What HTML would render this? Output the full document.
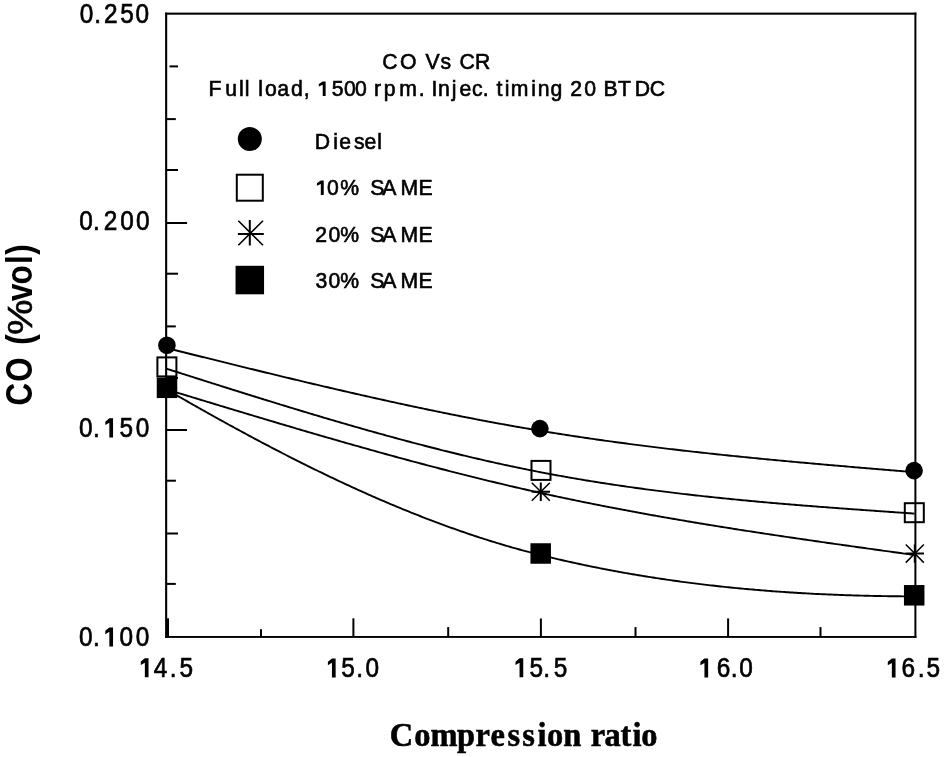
<!DOCTYPE html>
<html><head><meta charset="utf-8"><style>
html,body{margin:0;padding:0;background:#fff;}
svg{display:block;will-change:transform;}
</style></head><body>
<svg width="944" height="757" viewBox="0 0 944 757">
<rect width="944" height="757" fill="#fff"/>
<rect x="165.1" y="12.6" width="2.1" height="625.3" fill="#000"/>
<rect x="165.1" y="12.6" width="751.3" height="2.1" fill="#000"/>
<rect x="914.4" y="12.6" width="2.0" height="625.3" fill="#000"/>
<rect x="165.1" y="636.0" width="751.3" height="1.9" fill="#000"/>
<rect x="169.5" y="65.40" width="8.50" height="2" fill="#000"/>
<rect x="167" y="118.10" width="8.80" height="2" fill="#000"/>
<rect x="167" y="169.00" width="11.00" height="2" fill="#000"/>
<rect x="167" y="272.70" width="11.00" height="2" fill="#000"/>
<rect x="167" y="325.40" width="8.80" height="2" fill="#000"/>
<rect x="167" y="377.00" width="11.00" height="2" fill="#000"/>
<rect x="167" y="479.70" width="8.90" height="2" fill="#000"/>
<rect x="167" y="532.50" width="11.00" height="2" fill="#000"/>
<rect x="167" y="582.90" width="8.80" height="2" fill="#000"/>
<rect x="167" y="222.00" width="20.10" height="2" fill="#000"/>
<rect x="167" y="429.00" width="20.00" height="2" fill="#000"/>
<rect x="260.00" y="629.2" width="2" height="7.80" fill="#000"/>
<rect x="447.20" y="627.1" width="2" height="9.90" fill="#000"/>
<rect x="634.50" y="627.1" width="2" height="9.90" fill="#000"/>
<rect x="819.50" y="627.1" width="2" height="9.90" fill="#000"/>
<rect x="167.00" y="618.3" width="2" height="18.70" fill="#000"/>
<rect x="352.40" y="618.3" width="2" height="18.70" fill="#000"/>
<rect x="539.90" y="618.5" width="2" height="18.50" fill="#000"/>
<rect x="727.10" y="618.4" width="2" height="18.60" fill="#000"/>
<path d="M166.50,348.00 L168.50,348.50 L170.50,349.00 L172.50,349.49 L174.50,349.99 L176.50,350.49 L178.50,350.99 L180.50,351.49 L182.50,351.98 L184.50,352.48 L186.50,352.98 L188.50,353.48 L190.50,353.97 L192.50,354.47 L194.50,354.97 L196.50,355.47 L198.50,355.96 L200.50,356.46 L202.50,356.96 L204.50,357.45 L206.50,357.95 L208.50,358.45 L210.50,358.94 L212.50,359.44 L214.50,359.93 L216.50,360.43 L218.50,360.92 L220.50,361.42 L222.50,361.91 L224.50,362.41 L226.50,362.90 L228.50,363.39 L230.50,363.89 L232.50,364.38 L234.50,364.87 L236.50,365.37 L238.50,365.86 L240.50,366.35 L242.50,366.84 L244.50,367.33 L246.50,367.82 L248.50,368.31 L250.50,368.80 L252.50,369.29 L254.50,369.78 L256.50,370.27 L258.50,370.76 L260.50,371.25 L262.50,371.74 L264.50,372.22 L266.50,372.71 L268.50,373.19 L270.50,373.68 L272.50,374.17 L274.50,374.65 L276.50,375.13 L278.50,375.62 L280.50,376.10 L282.50,376.58 L284.50,377.06 L286.50,377.55 L288.50,378.03 L290.50,378.51 L292.50,378.99 L294.50,379.47 L296.50,379.94 L298.50,380.42 L300.50,380.90 L302.50,381.38 L304.50,381.85 L306.50,382.33 L308.50,382.80 L310.50,383.27 L312.50,383.75 L314.50,384.22 L316.50,384.69 L318.50,385.16 L320.50,385.63 L322.50,386.10 L324.50,386.57 L326.50,387.04 L328.50,387.51 L330.50,387.97 L332.50,388.44 L334.50,388.90 L336.50,389.37 L338.50,389.83 L340.50,390.29 L342.50,390.76 L344.50,391.22 L346.50,391.68 L348.50,392.14 L350.50,392.60 L352.50,393.05 L354.50,393.51 L356.50,393.97 L358.50,394.42 L360.50,394.87 L362.50,395.33 L364.50,395.78 L366.50,396.23 L368.50,396.68 L370.50,397.13 L372.50,397.58 L374.50,398.02 L376.50,398.47 L378.50,398.92 L380.50,399.36 L382.50,399.80 L384.50,400.25 L386.50,400.69 L388.50,401.13 L390.50,401.57 L392.50,402.00 L394.50,402.44 L396.50,402.88 L398.50,403.31 L400.50,403.75 L402.50,404.18 L404.50,404.61 L406.50,405.04 L408.50,405.47 L410.50,405.90 L412.50,406.32 L414.50,406.75 L416.50,407.17 L418.50,407.60 L420.50,408.02 L422.50,408.44 L424.50,408.86 L426.50,409.28 L428.50,409.70 L430.50,410.11 L432.50,410.53 L434.50,410.94 L436.50,411.35 L438.50,411.76 L440.50,412.17 L442.50,412.58 L444.50,412.99 L446.50,413.39 L448.50,413.80 L450.50,414.20 L452.50,414.60 L454.50,415.00 L456.50,415.40 L458.50,415.80 L460.50,416.20 L462.50,416.59 L464.50,416.99 L466.50,417.38 L468.50,417.77 L470.50,418.16 L472.50,418.54 L474.50,418.93 L476.50,419.32 L478.50,419.70 L480.50,420.08 L482.50,420.46 L484.50,420.84 L486.50,421.22 L488.50,421.59 L490.50,421.97 L492.50,422.34 L494.50,422.71 L496.50,423.08 L498.50,423.45 L500.50,423.82 L502.50,424.18 L504.50,424.54 L506.50,424.91 L508.50,425.27 L510.50,425.62 L512.50,425.98 L514.50,426.34 L516.50,426.69 L518.50,427.04 L520.50,427.39 L522.50,427.74 L524.50,428.09 L526.50,428.43 L528.50,428.78 L530.50,429.12 L532.50,429.46 L534.50,429.80 L536.50,430.13 L538.50,430.47 L540.50,430.80 L542.50,431.13 L544.50,431.46 L546.50,431.79 L548.50,432.11 L550.50,432.44 L552.50,432.76 L554.50,433.08 L556.50,433.40 L558.50,433.72 L560.50,434.03 L562.50,434.35 L564.50,434.66 L566.50,434.97 L568.50,435.28 L570.50,435.59 L572.50,435.89 L574.50,436.20 L576.50,436.50 L578.50,436.80 L580.50,437.10 L582.50,437.40 L584.50,437.69 L586.50,437.99 L588.50,438.28 L590.50,438.57 L592.50,438.86 L594.50,439.15 L596.50,439.44 L598.50,439.72 L600.50,440.01 L602.50,440.29 L604.50,440.57 L606.50,440.85 L608.50,441.13 L610.50,441.40 L612.50,441.68 L614.50,441.95 L616.50,442.22 L618.50,442.49 L620.50,442.76 L622.50,443.03 L624.50,443.30 L626.50,443.56 L628.50,443.83 L630.50,444.09 L632.50,444.35 L634.50,444.61 L636.50,444.87 L638.50,445.13 L640.50,445.38 L642.50,445.64 L644.50,445.89 L646.50,446.14 L648.50,446.39 L650.50,446.64 L652.50,446.89 L654.50,447.14 L656.50,447.38 L658.50,447.63 L660.50,447.87 L662.50,448.11 L664.50,448.35 L666.50,448.59 L668.50,448.83 L670.50,449.07 L672.50,449.30 L674.50,449.54 L676.50,449.77 L678.50,450.01 L680.50,450.24 L682.50,450.47 L684.50,450.70 L686.50,450.93 L688.50,451.15 L690.50,451.38 L692.50,451.60 L694.50,451.83 L696.50,452.05 L698.50,452.27 L700.50,452.49 L702.50,452.71 L704.50,452.93 L706.50,453.15 L708.50,453.37 L710.50,453.58 L712.50,453.80 L714.50,454.01 L716.50,454.23 L718.50,454.44 L720.50,454.65 L722.50,454.86 L724.50,455.07 L726.50,455.28 L728.50,455.48 L730.50,455.69 L732.50,455.90 L734.50,456.10 L736.50,456.31 L738.50,456.51 L740.50,456.71 L742.50,456.91 L744.50,457.11 L746.50,457.31 L748.50,457.51 L750.50,457.71 L752.50,457.91 L754.50,458.11 L756.50,458.30 L758.50,458.50 L760.50,458.69 L762.50,458.89 L764.50,459.08 L766.50,459.27 L768.50,459.46 L770.50,459.65 L772.50,459.84 L774.50,460.03 L776.50,460.22 L778.50,460.41 L780.50,460.60 L782.50,460.79 L784.50,460.97 L786.50,461.16 L788.50,461.34 L790.50,461.53 L792.50,461.71 L794.50,461.90 L796.50,462.08 L798.50,462.26 L800.50,462.44 L802.50,462.62 L804.50,462.80 L806.50,462.98 L808.50,463.16 L810.50,463.34 L812.50,463.52 L814.50,463.70 L816.50,463.88 L818.50,464.05 L820.50,464.23 L822.50,464.41 L824.50,464.58 L826.50,464.76 L828.50,464.93 L830.50,465.11 L832.50,465.28 L834.50,465.46 L836.50,465.63 L838.50,465.80 L840.50,465.98 L842.50,466.15 L844.50,466.32 L846.50,466.49 L848.50,466.66 L850.50,466.83 L852.50,467.01 L854.50,467.18 L856.50,467.35 L858.50,467.52 L860.50,467.69 L862.50,467.86 L864.50,468.02 L866.50,468.19 L868.50,468.36 L870.50,468.53 L872.50,468.70 L874.50,468.87 L876.50,469.03 L878.50,469.20 L880.50,469.37 L882.50,469.54 L884.50,469.70 L886.50,469.87 L888.50,470.04 L890.50,470.20 L892.50,470.37 L894.50,470.54 L896.50,470.70 L898.50,470.87 L900.50,471.04 L902.50,471.20 L904.50,471.37 L906.50,471.54 L908.50,471.70 L910.50,471.87 L912.50,472.03 L914.50,472.20" fill="none" stroke="#000" stroke-width="1.9"/>
<path d="M166.50,368.70 L168.50,369.34 L170.50,369.97 L172.50,370.61 L174.50,371.25 L176.50,371.88 L178.50,372.52 L180.50,373.15 L182.50,373.79 L184.50,374.43 L186.50,375.06 L188.50,375.70 L190.50,376.33 L192.50,376.97 L194.50,377.60 L196.50,378.24 L198.50,378.87 L200.50,379.51 L202.50,380.14 L204.50,380.78 L206.50,381.41 L208.50,382.04 L210.50,382.68 L212.50,383.31 L214.50,383.94 L216.50,384.58 L218.50,385.21 L220.50,385.84 L222.50,386.47 L224.50,387.10 L226.50,387.73 L228.50,388.36 L230.50,388.99 L232.50,389.62 L234.50,390.25 L236.50,390.88 L238.50,391.50 L240.50,392.13 L242.50,392.76 L244.50,393.38 L246.50,394.01 L248.50,394.63 L250.50,395.26 L252.50,395.88 L254.50,396.50 L256.50,397.13 L258.50,397.75 L260.50,398.37 L262.50,398.99 L264.50,399.61 L266.50,400.23 L268.50,400.85 L270.50,401.46 L272.50,402.08 L274.50,402.70 L276.50,403.31 L278.50,403.93 L280.50,404.54 L282.50,405.15 L284.50,405.77 L286.50,406.38 L288.50,406.99 L290.50,407.60 L292.50,408.21 L294.50,408.81 L296.50,409.42 L298.50,410.03 L300.50,410.63 L302.50,411.24 L304.50,411.84 L306.50,412.44 L308.50,413.04 L310.50,413.64 L312.50,414.24 L314.50,414.84 L316.50,415.44 L318.50,416.03 L320.50,416.63 L322.50,417.22 L324.50,417.81 L326.50,418.40 L328.50,418.99 L330.50,419.58 L332.50,420.17 L334.50,420.76 L336.50,421.34 L338.50,421.93 L340.50,422.51 L342.50,423.09 L344.50,423.67 L346.50,424.25 L348.50,424.83 L350.50,425.41 L352.50,425.98 L354.50,426.56 L356.50,427.13 L358.50,427.70 L360.50,428.27 L362.50,428.84 L364.50,429.41 L366.50,429.98 L368.50,430.54 L370.50,431.10 L372.50,431.66 L374.50,432.23 L376.50,432.78 L378.50,433.34 L380.50,433.90 L382.50,434.45 L384.50,435.00 L386.50,435.55 L388.50,436.10 L390.50,436.65 L392.50,437.20 L394.50,437.74 L396.50,438.29 L398.50,438.83 L400.50,439.37 L402.50,439.91 L404.50,440.44 L406.50,440.98 L408.50,441.51 L410.50,442.04 L412.50,442.57 L414.50,443.10 L416.50,443.63 L418.50,444.15 L420.50,444.67 L422.50,445.19 L424.50,445.71 L426.50,446.23 L428.50,446.74 L430.50,447.26 L432.50,447.77 L434.50,448.28 L436.50,448.79 L438.50,449.29 L440.50,449.80 L442.50,450.30 L444.50,450.80 L446.50,451.29 L448.50,451.79 L450.50,452.28 L452.50,452.78 L454.50,453.27 L456.50,453.75 L458.50,454.24 L460.50,454.72 L462.50,455.21 L464.50,455.68 L466.50,456.16 L468.50,456.64 L470.50,457.11 L472.50,457.58 L474.50,458.05 L476.50,458.52 L478.50,458.98 L480.50,459.44 L482.50,459.90 L484.50,460.36 L486.50,460.82 L488.50,461.27 L490.50,461.72 L492.50,462.17 L494.50,462.61 L496.50,463.06 L498.50,463.50 L500.50,463.94 L502.50,464.37 L504.50,464.81 L506.50,465.24 L508.50,465.67 L510.50,466.10 L512.50,466.52 L514.50,466.94 L516.50,467.36 L518.50,467.78 L520.50,468.19 L522.50,468.61 L524.50,469.02 L526.50,469.42 L528.50,469.83 L530.50,470.23 L532.50,470.63 L534.50,471.03 L536.50,471.42 L538.50,471.81 L540.50,472.20 L542.50,472.59 L544.50,472.97 L546.50,473.35 L548.50,473.73 L550.50,474.10 L552.50,474.48 L554.50,474.85 L556.50,475.22 L558.50,475.58 L560.50,475.94 L562.50,476.30 L564.50,476.66 L566.50,477.02 L568.50,477.37 L570.50,477.72 L572.50,478.07 L574.50,478.41 L576.50,478.76 L578.50,479.10 L580.50,479.43 L582.50,479.77 L584.50,480.10 L586.50,480.44 L588.50,480.76 L590.50,481.09 L592.50,481.41 L594.50,481.74 L596.50,482.06 L598.50,482.37 L600.50,482.69 L602.50,483.00 L604.50,483.31 L606.50,483.62 L608.50,483.93 L610.50,484.23 L612.50,484.53 L614.50,484.83 L616.50,485.13 L618.50,485.42 L620.50,485.72 L622.50,486.01 L624.50,486.30 L626.50,486.59 L628.50,486.87 L630.50,487.15 L632.50,487.43 L634.50,487.71 L636.50,487.99 L638.50,488.27 L640.50,488.54 L642.50,488.81 L644.50,489.08 L646.50,489.35 L648.50,489.61 L650.50,489.87 L652.50,490.14 L654.50,490.40 L656.50,490.65 L658.50,490.91 L660.50,491.16 L662.50,491.42 L664.50,491.67 L666.50,491.92 L668.50,492.16 L670.50,492.41 L672.50,492.65 L674.50,492.89 L676.50,493.13 L678.50,493.37 L680.50,493.61 L682.50,493.84 L684.50,494.08 L686.50,494.31 L688.50,494.54 L690.50,494.77 L692.50,494.99 L694.50,495.22 L696.50,495.44 L698.50,495.67 L700.50,495.89 L702.50,496.11 L704.50,496.32 L706.50,496.54 L708.50,496.75 L710.50,496.97 L712.50,497.18 L714.50,497.39 L716.50,497.60 L718.50,497.81 L720.50,498.01 L722.50,498.22 L724.50,498.42 L726.50,498.62 L728.50,498.82 L730.50,499.02 L732.50,499.22 L734.50,499.42 L736.50,499.61 L738.50,499.81 L740.50,500.00 L742.50,500.19 L744.50,500.38 L746.50,500.57 L748.50,500.76 L750.50,500.94 L752.50,501.13 L754.50,501.31 L756.50,501.50 L758.50,501.68 L760.50,501.86 L762.50,502.04 L764.50,502.22 L766.50,502.40 L768.50,502.58 L770.50,502.75 L772.50,502.93 L774.50,503.10 L776.50,503.27 L778.50,503.44 L780.50,503.62 L782.50,503.79 L784.50,503.95 L786.50,504.12 L788.50,504.29 L790.50,504.46 L792.50,504.62 L794.50,504.79 L796.50,504.95 L798.50,505.11 L800.50,505.27 L802.50,505.43 L804.50,505.59 L806.50,505.75 L808.50,505.91 L810.50,506.07 L812.50,506.23 L814.50,506.38 L816.50,506.54 L818.50,506.70 L820.50,506.85 L822.50,507.00 L824.50,507.16 L826.50,507.31 L828.50,507.46 L830.50,507.61 L832.50,507.76 L834.50,507.91 L836.50,508.06 L838.50,508.21 L840.50,508.36 L842.50,508.51 L844.50,508.66 L846.50,508.80 L848.50,508.95 L850.50,509.09 L852.50,509.24 L854.50,509.38 L856.50,509.53 L858.50,509.67 L860.50,509.82 L862.50,509.96 L864.50,510.10 L866.50,510.25 L868.50,510.39 L870.50,510.53 L872.50,510.67 L874.50,510.81 L876.50,510.95 L878.50,511.10 L880.50,511.24 L882.50,511.38 L884.50,511.52 L886.50,511.66 L888.50,511.80 L890.50,511.94 L892.50,512.07 L894.50,512.21 L896.50,512.35 L898.50,512.49 L900.50,512.63 L902.50,512.77 L904.50,512.91 L906.50,513.05 L908.50,513.18 L910.50,513.32 L912.50,513.46 L914.50,513.60" fill="none" stroke="#000" stroke-width="1.9"/>
<path d="M166.50,389.40 L168.50,390.01 L170.50,390.62 L172.50,391.23 L174.50,391.84 L176.50,392.44 L178.50,393.05 L180.50,393.66 L182.50,394.27 L184.50,394.88 L186.50,395.49 L188.50,396.09 L190.50,396.70 L192.50,397.31 L194.50,397.92 L196.50,398.53 L198.50,399.13 L200.50,399.74 L202.50,400.35 L204.50,400.96 L206.50,401.56 L208.50,402.17 L210.50,402.78 L212.50,403.38 L214.50,403.99 L216.50,404.60 L218.50,405.20 L220.50,405.81 L222.50,406.41 L224.50,407.02 L226.50,407.62 L228.50,408.23 L230.50,408.83 L232.50,409.43 L234.50,410.04 L236.50,410.64 L238.50,411.24 L240.50,411.85 L242.50,412.45 L244.50,413.05 L246.50,413.65 L248.50,414.25 L250.50,414.85 L252.50,415.45 L254.50,416.05 L256.50,416.65 L258.50,417.25 L260.50,417.85 L262.50,418.45 L264.50,419.05 L266.50,419.64 L268.50,420.24 L270.50,420.84 L272.50,421.43 L274.50,422.03 L276.50,422.62 L278.50,423.22 L280.50,423.81 L282.50,424.40 L284.50,425.00 L286.50,425.59 L288.50,426.18 L290.50,426.77 L292.50,427.36 L294.50,427.95 L296.50,428.54 L298.50,429.13 L300.50,429.72 L302.50,430.30 L304.50,430.89 L306.50,431.47 L308.50,432.06 L310.50,432.64 L312.50,433.23 L314.50,433.81 L316.50,434.39 L318.50,434.98 L320.50,435.56 L322.50,436.14 L324.50,436.72 L326.50,437.30 L328.50,437.87 L330.50,438.45 L332.50,439.03 L334.50,439.60 L336.50,440.18 L338.50,440.75 L340.50,441.33 L342.50,441.90 L344.50,442.47 L346.50,443.04 L348.50,443.61 L350.50,444.18 L352.50,444.75 L354.50,445.31 L356.50,445.88 L358.50,446.45 L360.50,447.01 L362.50,447.58 L364.50,448.14 L366.50,448.70 L368.50,449.26 L370.50,449.82 L372.50,450.38 L374.50,450.94 L376.50,451.49 L378.50,452.05 L380.50,452.61 L382.50,453.16 L384.50,453.71 L386.50,454.26 L388.50,454.81 L390.50,455.36 L392.50,455.91 L394.50,456.46 L396.50,457.01 L398.50,457.55 L400.50,458.10 L402.50,458.64 L404.50,459.18 L406.50,459.72 L408.50,460.26 L410.50,460.80 L412.50,461.34 L414.50,461.88 L416.50,462.41 L418.50,462.95 L420.50,463.48 L422.50,464.01 L424.50,464.54 L426.50,465.07 L428.50,465.60 L430.50,466.12 L432.50,466.65 L434.50,467.17 L436.50,467.70 L438.50,468.22 L440.50,468.74 L442.50,469.26 L444.50,469.78 L446.50,470.29 L448.50,470.81 L450.50,471.32 L452.50,471.83 L454.50,472.34 L456.50,472.85 L458.50,473.36 L460.50,473.87 L462.50,474.37 L464.50,474.88 L466.50,475.38 L468.50,475.88 L470.50,476.38 L472.50,476.88 L474.50,477.38 L476.50,477.87 L478.50,478.37 L480.50,478.86 L482.50,479.35 L484.50,479.84 L486.50,480.33 L488.50,480.82 L490.50,481.30 L492.50,481.78 L494.50,482.27 L496.50,482.75 L498.50,483.22 L500.50,483.70 L502.50,484.18 L504.50,484.65 L506.50,485.12 L508.50,485.59 L510.50,486.06 L512.50,486.53 L514.50,487.00 L516.50,487.46 L518.50,487.92 L520.50,488.38 L522.50,488.84 L524.50,489.30 L526.50,489.76 L528.50,490.21 L530.50,490.66 L532.50,491.11 L534.50,491.56 L536.50,492.01 L538.50,492.46 L540.50,492.90 L542.50,493.34 L544.50,493.78 L546.50,494.22 L548.50,494.66 L550.50,495.09 L552.50,495.53 L554.50,495.96 L556.50,496.39 L558.50,496.81 L560.50,497.24 L562.50,497.67 L564.50,498.09 L566.50,498.51 L568.50,498.93 L570.50,499.35 L572.50,499.76 L574.50,500.18 L576.50,500.59 L578.50,501.00 L580.50,501.41 L582.50,501.82 L584.50,502.23 L586.50,502.63 L588.50,503.04 L590.50,503.44 L592.50,503.84 L594.50,504.24 L596.50,504.64 L598.50,505.03 L600.50,505.43 L602.50,505.82 L604.50,506.21 L606.50,506.60 L608.50,506.99 L610.50,507.38 L612.50,507.76 L614.50,508.15 L616.50,508.53 L618.50,508.91 L620.50,509.29 L622.50,509.67 L624.50,510.05 L626.50,510.42 L628.50,510.80 L630.50,511.17 L632.50,511.54 L634.50,511.91 L636.50,512.28 L638.50,512.65 L640.50,513.02 L642.50,513.38 L644.50,513.75 L646.50,514.11 L648.50,514.47 L650.50,514.83 L652.50,515.19 L654.50,515.55 L656.50,515.90 L658.50,516.26 L660.50,516.61 L662.50,516.96 L664.50,517.32 L666.50,517.67 L668.50,518.02 L670.50,518.36 L672.50,518.71 L674.50,519.06 L676.50,519.40 L678.50,519.74 L680.50,520.09 L682.50,520.43 L684.50,520.77 L686.50,521.11 L688.50,521.44 L690.50,521.78 L692.50,522.12 L694.50,522.45 L696.50,522.79 L698.50,523.12 L700.50,523.45 L702.50,523.78 L704.50,524.11 L706.50,524.44 L708.50,524.77 L710.50,525.09 L712.50,525.42 L714.50,525.74 L716.50,526.07 L718.50,526.39 L720.50,526.71 L722.50,527.03 L724.50,527.35 L726.50,527.67 L728.50,527.99 L730.50,528.31 L732.50,528.62 L734.50,528.94 L736.50,529.25 L738.50,529.57 L740.50,529.88 L742.50,530.19 L744.50,530.51 L746.50,530.82 L748.50,531.13 L750.50,531.43 L752.50,531.74 L754.50,532.05 L756.50,532.36 L758.50,532.66 L760.50,532.97 L762.50,533.27 L764.50,533.58 L766.50,533.88 L768.50,534.18 L770.50,534.48 L772.50,534.79 L774.50,535.09 L776.50,535.39 L778.50,535.68 L780.50,535.98 L782.50,536.28 L784.50,536.58 L786.50,536.87 L788.50,537.17 L790.50,537.47 L792.50,537.76 L794.50,538.05 L796.50,538.35 L798.50,538.64 L800.50,538.93 L802.50,539.22 L804.50,539.52 L806.50,539.81 L808.50,540.10 L810.50,540.39 L812.50,540.68 L814.50,540.97 L816.50,541.25 L818.50,541.54 L820.50,541.83 L822.50,542.12 L824.50,542.40 L826.50,542.69 L828.50,542.97 L830.50,543.26 L832.50,543.54 L834.50,543.83 L836.50,544.11 L838.50,544.40 L840.50,544.68 L842.50,544.96 L844.50,545.25 L846.50,545.53 L848.50,545.81 L850.50,546.09 L852.50,546.37 L854.50,546.66 L856.50,546.94 L858.50,547.22 L860.50,547.50 L862.50,547.78 L864.50,548.06 L866.50,548.34 L868.50,548.62 L870.50,548.89 L872.50,549.17 L874.50,549.45 L876.50,549.73 L878.50,550.01 L880.50,550.29 L882.50,550.57 L884.50,550.84 L886.50,551.12 L888.50,551.40 L890.50,551.68 L892.50,551.95 L894.50,552.23 L896.50,552.51 L898.50,552.79 L900.50,553.06 L902.50,553.34 L904.50,553.62 L906.50,553.89 L908.50,554.17 L910.50,554.45 L912.50,554.72 L914.50,555.00" fill="none" stroke="#000" stroke-width="1.9"/>
<path d="M166.50,389.40 L168.50,390.56 L170.50,391.72 L172.50,392.88 L174.50,394.03 L176.50,395.19 L178.50,396.34 L180.50,397.49 L182.50,398.64 L184.50,399.78 L186.50,400.93 L188.50,402.07 L190.50,403.21 L192.50,404.35 L194.50,405.49 L196.50,406.62 L198.50,407.76 L200.50,408.89 L202.50,410.01 L204.50,411.14 L206.50,412.26 L208.50,413.39 L210.50,414.51 L212.50,415.62 L214.50,416.74 L216.50,417.85 L218.50,418.96 L220.50,420.07 L222.50,421.18 L224.50,422.28 L226.50,423.39 L228.50,424.49 L230.50,425.58 L232.50,426.68 L234.50,427.77 L236.50,428.86 L238.50,429.95 L240.50,431.03 L242.50,432.12 L244.50,433.20 L246.50,434.28 L248.50,435.35 L250.50,436.42 L252.50,437.49 L254.50,438.56 L256.50,439.63 L258.50,440.69 L260.50,441.75 L262.50,442.81 L264.50,443.86 L266.50,444.91 L268.50,445.96 L270.50,447.01 L272.50,448.05 L274.50,449.09 L276.50,450.13 L278.50,451.17 L280.50,452.20 L282.50,453.23 L284.50,454.25 L286.50,455.28 L288.50,456.30 L290.50,457.32 L292.50,458.33 L294.50,459.34 L296.50,460.35 L298.50,461.36 L300.50,462.36 L302.50,463.36 L304.50,464.36 L306.50,465.35 L308.50,466.34 L310.50,467.33 L312.50,468.31 L314.50,469.29 L316.50,470.27 L318.50,471.25 L320.50,472.22 L322.50,473.19 L324.50,474.15 L326.50,475.11 L328.50,476.07 L330.50,477.03 L332.50,477.98 L334.50,478.93 L336.50,479.87 L338.50,480.82 L340.50,481.75 L342.50,482.69 L344.50,483.62 L346.50,484.55 L348.50,485.47 L350.50,486.39 L352.50,487.31 L354.50,488.22 L356.50,489.13 L358.50,490.04 L360.50,490.94 L362.50,491.84 L364.50,492.74 L366.50,493.63 L368.50,494.52 L370.50,495.40 L372.50,496.29 L374.50,497.16 L376.50,498.04 L378.50,498.91 L380.50,499.77 L382.50,500.63 L384.50,501.49 L386.50,502.35 L388.50,503.20 L390.50,504.04 L392.50,504.89 L394.50,505.73 L396.50,506.56 L398.50,507.39 L400.50,508.22 L402.50,509.04 L404.50,509.86 L406.50,510.67 L408.50,511.48 L410.50,512.29 L412.50,513.09 L414.50,513.89 L416.50,514.69 L418.50,515.48 L420.50,516.26 L422.50,517.04 L424.50,517.82 L426.50,518.59 L428.50,519.36 L430.50,520.13 L432.50,520.89 L434.50,521.64 L436.50,522.39 L438.50,523.14 L440.50,523.88 L442.50,524.62 L444.50,525.36 L446.50,526.09 L448.50,526.81 L450.50,527.53 L452.50,528.25 L454.50,528.96 L456.50,529.67 L458.50,530.37 L460.50,531.07 L462.50,531.76 L464.50,532.45 L466.50,533.13 L468.50,533.81 L470.50,534.49 L472.50,535.16 L474.50,535.82 L476.50,536.48 L478.50,537.14 L480.50,537.79 L482.50,538.43 L484.50,539.08 L486.50,539.71 L488.50,540.34 L490.50,540.97 L492.50,541.59 L494.50,542.21 L496.50,542.82 L498.50,543.43 L500.50,544.03 L502.50,544.63 L504.50,545.22 L506.50,545.81 L508.50,546.39 L510.50,546.97 L512.50,547.54 L514.50,548.10 L516.50,548.67 L518.50,549.22 L520.50,549.77 L522.50,550.32 L524.50,550.86 L526.50,551.40 L528.50,551.93 L530.50,552.45 L532.50,552.97 L534.50,553.49 L536.50,554.00 L538.50,554.50 L540.50,555.00 L542.50,555.49 L544.50,555.98 L546.50,556.47 L548.50,556.96 L550.50,557.44 L552.50,557.91 L554.50,558.39 L556.50,558.85 L558.50,559.32 L560.50,559.78 L562.50,560.24 L564.50,560.70 L566.50,561.15 L568.50,561.60 L570.50,562.05 L572.50,562.49 L574.50,562.93 L576.50,563.36 L578.50,563.79 L580.50,564.22 L582.50,564.65 L584.50,565.07 L586.50,565.49 L588.50,565.90 L590.50,566.31 L592.50,566.72 L594.50,567.13 L596.50,567.53 L598.50,567.93 L600.50,568.32 L602.50,568.72 L604.50,569.10 L606.50,569.49 L608.50,569.87 L610.50,570.25 L612.50,570.63 L614.50,571.00 L616.50,571.37 L618.50,571.74 L620.50,572.10 L622.50,572.46 L624.50,572.82 L626.50,573.17 L628.50,573.52 L630.50,573.87 L632.50,574.21 L634.50,574.55 L636.50,574.89 L638.50,575.23 L640.50,575.56 L642.50,575.89 L644.50,576.21 L646.50,576.54 L648.50,576.86 L650.50,577.17 L652.50,577.49 L654.50,577.80 L656.50,578.11 L658.50,578.41 L660.50,578.71 L662.50,579.01 L664.50,579.31 L666.50,579.60 L668.50,579.89 L670.50,580.18 L672.50,580.46 L674.50,580.74 L676.50,581.02 L678.50,581.30 L680.50,581.57 L682.50,581.84 L684.50,582.11 L686.50,582.37 L688.50,582.63 L690.50,582.89 L692.50,583.15 L694.50,583.40 L696.50,583.65 L698.50,583.90 L700.50,584.14 L702.50,584.38 L704.50,584.62 L706.50,584.86 L708.50,585.09 L710.50,585.32 L712.50,585.55 L714.50,585.78 L716.50,586.00 L718.50,586.22 L720.50,586.44 L722.50,586.65 L724.50,586.86 L726.50,587.07 L728.50,587.28 L730.50,587.48 L732.50,587.69 L734.50,587.89 L736.50,588.08 L738.50,588.28 L740.50,588.47 L742.50,588.66 L744.50,588.84 L746.50,589.03 L748.50,589.21 L750.50,589.38 L752.50,589.56 L754.50,589.73 L756.50,589.91 L758.50,590.07 L760.50,590.24 L762.50,590.40 L764.50,590.56 L766.50,590.72 L768.50,590.88 L770.50,591.03 L772.50,591.19 L774.50,591.33 L776.50,591.48 L778.50,591.63 L780.50,591.77 L782.50,591.91 L784.50,592.04 L786.50,592.18 L788.50,592.31 L790.50,592.44 L792.50,592.57 L794.50,592.70 L796.50,592.82 L798.50,592.94 L800.50,593.06 L802.50,593.18 L804.50,593.29 L806.50,593.40 L808.50,593.51 L810.50,593.62 L812.50,593.72 L814.50,593.83 L816.50,593.93 L818.50,594.03 L820.50,594.12 L822.50,594.22 L824.50,594.31 L826.50,594.40 L828.50,594.49 L830.50,594.57 L832.50,594.66 L834.50,594.74 L836.50,594.82 L838.50,594.90 L840.50,594.97 L842.50,595.05 L844.50,595.12 L846.50,595.19 L848.50,595.25 L850.50,595.32 L852.50,595.38 L854.50,595.44 L856.50,595.50 L858.50,595.56 L860.50,595.62 L862.50,595.67 L864.50,595.72 L866.50,595.77 L868.50,595.82 L870.50,595.86 L872.50,595.91 L874.50,595.95 L876.50,595.99 L878.50,596.03 L880.50,596.06 L882.50,596.10 L884.50,596.13 L886.50,596.16 L888.50,596.19 L890.50,596.22 L892.50,596.24 L894.50,596.26 L896.50,596.29 L898.50,596.31 L900.50,596.32 L902.50,596.34 L904.50,596.35 L906.50,596.37 L908.50,596.38 L910.50,596.39 L912.50,596.39 L914.50,596.40" fill="none" stroke="#000" stroke-width="1.9"/>
<path d="M531.60,491.70 H550.00 M540.80,482.50 V500.90" stroke="#000" stroke-width="2" fill="none"/><path d="M531.78,482.68 L549.82,500.72 M531.78,500.72 L549.82,482.68" stroke="#000" stroke-width="1.5" fill="none"/>
<path d="M905.60,553.60 H924.00 M914.80,544.40 V562.80" stroke="#000" stroke-width="2" fill="none"/><path d="M905.78,544.58 L923.82,562.62 M905.78,562.62 L923.82,544.58" stroke="#000" stroke-width="1.5" fill="none"/>
<rect x="157.40" y="357.40" width="19.00" height="19.00" fill="none" stroke="#000" stroke-width="2"/>
<rect x="531.50" y="460.90" width="19.00" height="19.00" fill="none" stroke="#000" stroke-width="2"/>
<rect x="904.80" y="503.20" width="19.00" height="19.00" fill="none" stroke="#000" stroke-width="2"/>
<rect x="156.75" y="377.55" width="20.5" height="20.5" fill="#000"/>
<rect x="530.45" y="543.25" width="20.5" height="20.5" fill="#000"/>
<rect x="903.95" y="585.05" width="20.5" height="20.5" fill="#000"/>
<circle cx="166.90" cy="345.20" r="8.8" fill="#000"/>
<circle cx="539.90" cy="428.60" r="8.8" fill="#000"/>
<circle cx="914.10" cy="470.60" r="8.8" fill="#000"/>
<circle cx="249.80" cy="139.00" r="12.0" fill="#000"/>
<rect x="236.80" y="174.70" width="26.00" height="26.00" fill="none" stroke="#000" stroke-width="2"/>
<path d="M237.9,234.1 H263.8 M249.8,220.1 V245.5" stroke="#000" stroke-width="2" fill="none"/>
<path d="M238.3,220.8 L263.0,245.2 M238.3,245.2 L263.0,220.8" stroke="#000" stroke-width="1.6" fill="none"/>
<rect x="235.55" y="265.80" width="28.5" height="28.5" fill="#000"/>
<text transform="translate(79.75,23.19) scale(0.88,1)" x="-0.00 16.62 27.53 46.00 63.41" y="0" font-family="&quot;Liberation Sans&quot;, sans-serif" font-size="27.7" font-weight="normal" stroke="#000" stroke-width="0.7">0.250</text>
<text transform="translate(79.15,230.29) scale(0.88,1)" x="-0.00 15.83 28.10 46.70 64.55" y="0" font-family="&quot;Liberation Sans&quot;, sans-serif" font-size="27.7" font-weight="normal" stroke="#000" stroke-width="0.7">0.200</text>
<text transform="translate(79.05,437.39) scale(0.88,1)" x="-0.00 15.94 27.56 46.00 64.43" y="0" font-family="&quot;Liberation Sans&quot;, sans-serif" font-size="27.7" font-weight="normal" stroke="#000" stroke-width="0.7">0.<tspan visibility="hidden">1</tspan>50</text><g transform="translate(79.05,437.39) scale(0.88,1)"><path transform="translate(27.56,0) scale(0.01353,-0.01353)" d="M508,0 L818,0 L818,1409 L508,1409 L168,1159 L168,909 L508,1079 Z"/></g>
<text transform="translate(79.05,646.44) scale(0.88,1)" x="-0.00 15.94 27.56 46.02 64.43" y="0" font-family="&quot;Liberation Sans&quot;, sans-serif" font-size="27.7" font-weight="normal" stroke="#000" stroke-width="0.7">0.<tspan visibility="hidden">1</tspan>00</text><g transform="translate(79.05,646.44) scale(0.88,1)"><path transform="translate(27.56,0) scale(0.01353,-0.01353)" d="M508,0 L818,0 L818,1409 L508,1409 L168,1159 L168,909 L508,1079 Z"/></g>
<text transform="translate(138.80,677.29) scale(0.88,1)" x="0.00 16.86 35.08 46.39" y="0" font-family="&quot;Liberation Sans&quot;, sans-serif" font-size="27.7" font-weight="normal" stroke="#000" stroke-width="0.7"><tspan visibility="hidden">1</tspan>4.5</text><g transform="translate(138.80,677.29) scale(0.88,1)"><path transform="translate(0.00,0) scale(0.01353,-0.01353)" d="M508,0 L818,0 L818,1409 L508,1409 L168,1159 L168,909 L508,1079 Z"/></g>
<text transform="translate(325.90,677.44) scale(0.88,1)" x="-0.00 17.41 34.63 45.05" y="0" font-family="&quot;Liberation Sans&quot;, sans-serif" font-size="27.7" font-weight="normal" stroke="#000" stroke-width="0.7"><tspan visibility="hidden">1</tspan>5.0</text><g transform="translate(325.90,677.44) scale(0.88,1)"><path transform="translate(-0.00,0) scale(0.01353,-0.01353)" d="M508,0 L818,0 L818,1409 L508,1409 L168,1159 L168,909 L508,1079 Z"/></g>
<text transform="translate(513.50,677.34) scale(0.88,1)" x="0.00 18.10 33.95 45.82" y="0" font-family="&quot;Liberation Sans&quot;, sans-serif" font-size="27.7" font-weight="normal" stroke="#000" stroke-width="0.7"><tspan visibility="hidden">1</tspan>5.5</text><g transform="translate(513.50,677.34) scale(0.88,1)"><path transform="translate(0.00,0) scale(0.01353,-0.01353)" d="M508,0 L818,0 L818,1409 L508,1409 L168,1159 L168,909 L508,1079 Z"/></g>
<text transform="translate(698.40,677.49) scale(0.88,1)" x="0.00 20.98 36.79 46.30" y="0" font-family="&quot;Liberation Sans&quot;, sans-serif" font-size="27.7" font-weight="normal" stroke="#000" stroke-width="0.7"><tspan visibility="hidden">1</tspan>6.0</text><g transform="translate(698.40,677.49) scale(0.88,1)"><path transform="translate(0.00,0) scale(0.01353,-0.01353)" d="M508,0 L818,0 L818,1409 L508,1409 L168,1159 L168,909 L508,1079 Z"/></g>
<text transform="translate(885.80,677.49) scale(0.88,1)" x="0.00 17.80 36.33 46.28" y="0" font-family="&quot;Liberation Sans&quot;, sans-serif" font-size="27.7" font-weight="normal" stroke="#000" stroke-width="0.7"><tspan visibility="hidden">1</tspan>6.5</text><g transform="translate(885.80,677.49) scale(0.88,1)"><path transform="translate(0.00,0) scale(0.01353,-0.01353)" d="M508,0 L818,0 L818,1409 L508,1409 L168,1159 L168,909 L508,1079 Z"/></g>
<text transform="translate(382.22,69.35) scale(1.0,1)" x="0.00 17.87 34.86 43.28 58.39 70.09 77.20 92.84" y="0" font-family="&quot;Liberation Sans&quot;, sans-serif" font-size="21.2" font-weight="normal" stroke="#000" stroke-width="0.6">CO Vs CR</text>
<text transform="translate(208.56,96.00) scale(1.0,1)" x="-0.00 16.76 30.51 36.31 39.67 49.61 56.45 68.64 82.45 95.13 99.80 108.55 123.19 135.41 146.51 159.75 165.53 175.27 190.73 210.30 214.93 222.98 229.33 243.26 251.04 263.54 274.10 281.14 287.92 296.32 302.13 322.82 329.23 341.85 353.23 361.77 375.71 386.83 395.00 409.46 426.20 441.16" y="0" font-family="&quot;Liberation Sans&quot;, sans-serif" font-size="21.2" font-weight="normal" stroke="#000" stroke-width="0.6">Full load, <tspan visibility="hidden">1</tspan>500 rpm. Injec. timing 20 BTDC</text><g transform="translate(208.56,96.00) scale(1.0,1)"><path transform="translate(108.55,0) scale(0.01035,-0.01035)" d="M543,0 L823,0 L823,1409 L543,1409 L163,1149 L163,909 L543,1079 Z"/></g>
<text transform="translate(314.66,148.93) scale(1.0,1)" x="-0.00 18.52 24.54 39.25 49.94 62.51" y="0" font-family="&quot;Liberation Sans&quot;, sans-serif" font-size="21.2" font-weight="normal" stroke="#000" stroke-width="0.6">Diesel</text>
<text transform="translate(315.21,195.05) scale(1.0,1)" x="-0.00 11.86 25.03 46.67 55.12 67.05 85.35 103.25" y="0" font-family="&quot;Liberation Sans&quot;, sans-serif" font-size="21.2" font-weight="normal" stroke="#000" stroke-width="0.6"><tspan visibility="hidden">1</tspan>0% SAME</text><g transform="translate(315.21,195.05) scale(1.0,1)"><path transform="translate(-0.00,0) scale(0.01035,-0.01035)" d="M543,0 L823,0 L823,1409 L543,1409 L163,1149 L163,909 L543,1079 Z"/></g>
<text transform="translate(315.13,241.80) scale(1.0,1)" x="-0.00 13.34 25.11 46.71 55.20 67.12 85.43 103.33" y="0" font-family="&quot;Liberation Sans&quot;, sans-serif" font-size="21.2" font-weight="normal" stroke="#000" stroke-width="0.6">20% SAME</text>
<text transform="translate(315.39,287.55) scale(1.0,1)" x="-0.00 13.08 24.85 46.60 54.94 66.87 85.17 103.07" y="0" font-family="&quot;Liberation Sans&quot;, sans-serif" font-size="21.2" font-weight="normal" stroke="#000" stroke-width="0.6">30% SAME</text>
<text transform="translate(389.72,746.20) scale(0.94,1)" x="0.00 26.22 43.42 71.67 91.29 107.31 125.21 140.96 157.31 167.39 184.59 202.59 213.84 228.45 245.49 258.37 267.50" y="0" font-family="&quot;Liberation Serif&quot;, serif" font-size="34.5" font-weight="bold" stroke="#000" stroke-width="0.6">Compression ratio</text>
<text transform="translate(32.01,405.58) rotate(-90) scale(0.87,1)" x="0.00 27.47 57.22 70.03 82.07 120.07 139.04 162.87 173.28" y="0" font-family="&quot;Liberation Sans&quot;, sans-serif" font-size="36.0" font-weight="bold">CO (<tspan visibility="hidden">%</tspan>vol)</text>
<text transform="translate(32.03,334.81) rotate(-90) scale(1.1,1)" x="0.00" y="0" font-family="&quot;Liberation Sans&quot;, sans-serif" font-size="36.0" font-weight="normal" stroke="#000" stroke-width="0.6">%</text>
</svg>
</body></html>
